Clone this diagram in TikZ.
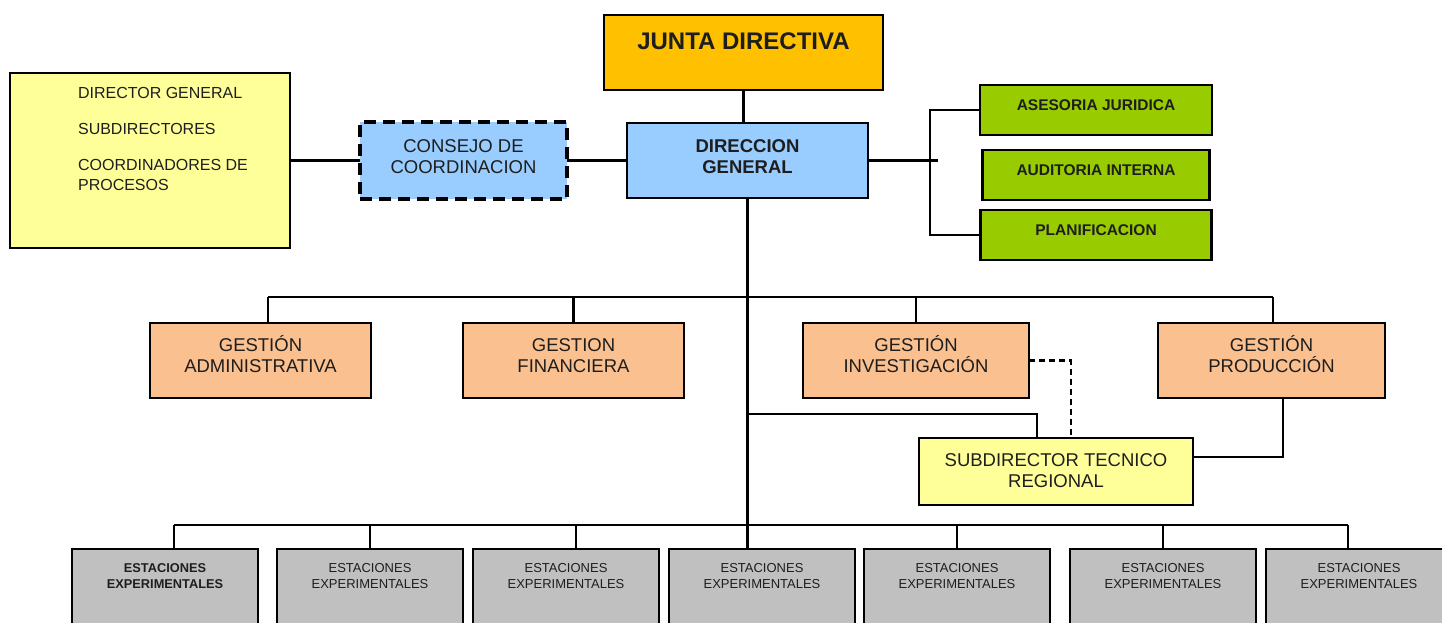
\documentclass[tikz,border=0pt]{standalone}
\usepackage{fontspec}
\setmainfont{Liberation Sans}
\usetikzlibrary{positioning}

\definecolor{juntagold}{HTML}{FFC000}
\definecolor{dirblue}{HTML}{99CCFF}
\definecolor{staffgreen}{HTML}{99CC00}
\definecolor{gestpeach}{HTML}{FAC090}
\definecolor{paleyellow}{HTML}{FFFF99}
\definecolor{estgray}{HTML}{C0C0C0}
\definecolor{inktext}{HTML}{1E1E1E}

% text block, raised inside its box
\newcommand{\lift}[3][c]{\raisebox{#2}[\height][\depth]{\begin{tabular}{@{}#1@{}}#3\end{tabular}}}

\begin{document}
\begin{tikzpicture}[x=1pt, y=-1pt,
    box/.style={draw, line width=2.8pt, inner sep=0pt, outer sep=0pt, text=inktext},
    junta/.style={box, fill=juntagold, minimum width=279pt, minimum height=75pt,
        font=\bfseries\fontsize{24}{29}\selectfont},
    direccion/.style={box, fill=dirblue, minimum width=241pt, minimum height=75pt,
        font=\bfseries\fontsize{18.5}{21}\selectfont},
    consejo/.style={box, fill=dirblue, line width=3.2pt, dash pattern=on 12pt off 7pt,
        minimum width=207pt, minimum height=77pt, font=\fontsize{18.5}{21}\selectfont},
    miembros/.style={box, fill=paleyellow, minimum width=280pt, minimum height=175pt,
        font=\fontsize{16}{20}\selectfont},
    staff/.style={box, fill=staffgreen, minimum height=50pt,
        font=\bfseries\fontsize{15.5}{19}\selectfont},
    gestion/.style={box, fill=gestpeach, minimum height=75pt,
        font=\fontsize{18.5}{21}\selectfont},
    subdir/.style={box, fill=paleyellow, minimum width=274pt, minimum height=67pt,
        font=\fontsize{18.5}{21}\selectfont},
    estacion/.style={box, fill=estgray, minimum width=186pt, minimum height=91pt,
        font=\fontsize{13}{16}\selectfont},
    link/.style={line width=2.3pt}
]
    \useasboundingbox (0,0) rectangle (1442,622);
    \clip (0,0) rectangle (1442,622);

    % top of the chart
    \node[junta] (JD) at (743.5,52.5) {\lift{8.7pt}{JUNTA DIRECTIVA}};
    \node[direccion] (DG) at (747.5,160.5) {\lift{2pt}{DIRECCION\\GENERAL}};
    \node[consejo, left=60pt of DG] (CC) {\lift{1.6pt}{CONSEJO DE\\COORDINACION}};
    \node[miembros, left=70pt of CC] (MB) {\hspace*{26pt}\lift[l]{20pt}{DIRECTOR GENERAL\\[16pt]SUBDIRECTORES\\[16pt]COORDINADORES DE\\PROCESOS}};

    % staff units
    \node[staff, minimum width=232pt] (AJ) at (1096,110) {\lift{3pt}{ASESORIA JURIDICA}};
    \node[staff, minimum width=227pt, below=15pt of AJ] (AI) {\lift{3pt}{AUDITORIA INTERNA}};
    \node[staff, minimum width=231pt, below=10pt of AI] (PL) {\lift{3pt}{PLANIFICACION}};

    % management row
    \node[gestion, minimum width=221pt] (GA) at (260.5,360.5) {\lift{2.6pt}{GESTI\smash{Ó}N\\ADMINISTRATIVA}};
    \node[gestion, minimum width=221pt, right=92pt of GA] (GF) {\lift{2.6pt}{GESTION\\FINANCIERA}};
    \node[gestion, minimum width=226pt, right=119pt of GF] (GI) {\lift{2.6pt}{GESTI\smash{Ó}N\\INVESTIGACI\smash{Ó}N}};
    \node[gestion, minimum width=227pt, right=129pt of GI] (GP) {\lift{2.6pt}{GESTI\smash{Ó}N\\PRODUCCI\smash{Ó}N}};

    \node[subdir] (ST) at (1056,471.5) {\lift{-1.4pt}{SUBDIRECTOR TECNICO\\REGIONAL}};

    % experimental stations
    \node[estacion, anchor=north, font=\bfseries\fontsize{12.8}{16}\selectfont] (E1) at (165,549) {\lift{17pt}{ESTACIONES\\EXPERIMENTALES}};
    \node[estacion, right=19pt of E1] (E2) {\lift{17pt}{ESTACIONES\\EXPERIMENTALES}};
    \node[estacion, right=10pt of E2] (E3) {\lift{17pt}{ESTACIONES\\EXPERIMENTALES}};
    \node[estacion, right=10pt of E3] (E4) {\lift{17pt}{ESTACIONES\\EXPERIMENTALES}};
    \node[estacion, right=9pt of E4] (E5) {\lift{17pt}{ESTACIONES\\EXPERIMENTALES}};
    \node[estacion, right=20pt of E5] (E6) {\lift{17pt}{ESTACIONES\\EXPERIMENTALES}};
    \node[estacion, right=10pt of E6] (E7) {\lift{17pt}{ESTACIONES\\EXPERIMENTALES}};

    \coordinate (stub) at (938,160.5);
    \coordinate (gL) at (268,297);
    \coordinate (gR) at (1273,297);
    \coordinate (tap) at (747.5,414);
    \coordinate (eL) at (174,525);
    \coordinate (eR) at (1348,525);

    \draw[link] (JD.south) -- (JD.south |- DG.north);
    \draw[link] (MB) edge (CC);
    \draw[link] (CC) edge (DG);
    \draw[link] (DG.east) -- (stub);
    \draw[link] (AJ.west) -- ++(-50pt,0) |- (PL.west);

    \draw[link] (gL) -- (gR);
    \draw[link] (gL) -- (gL |- GA.north);
    \draw[link] (GF.north) -- (GF.north |- gL);
    \draw[link] (GI.north) -- (GI.north |- gL);
    \draw[link] (gR) -- (gR |- GP.north);

    \draw[link] (DG.south) -- (DG.south |- E4.north);
    \draw[link] (tap) -| ([xshift=-19pt]ST.north);
    \draw[link, dash pattern=on 6pt off 4pt] (GI.east) -| ([xshift=15pt]ST.north);
    \draw[link] ([xshift=11.5pt]GP.south) |- ([yshift=14.5pt]ST.east);

    \draw[link] (eL) -- (eR);
    \draw[link] (eL) -- (eL |- E1.north);
    \draw[link] (E2.north) -- (E2.north |- eL);
    \draw[link] ([xshift=10pt]E3.north) -- ([xshift=10pt]E3.north |- eL);
    \draw[link] (E5.north) -- (E5.north |- eL);
    \draw[link] (E6.north) -- (E6.north |- eL);
    \draw[link] (eR) -- (eR |- E7.north);
\end{tikzpicture}
\end{document}
